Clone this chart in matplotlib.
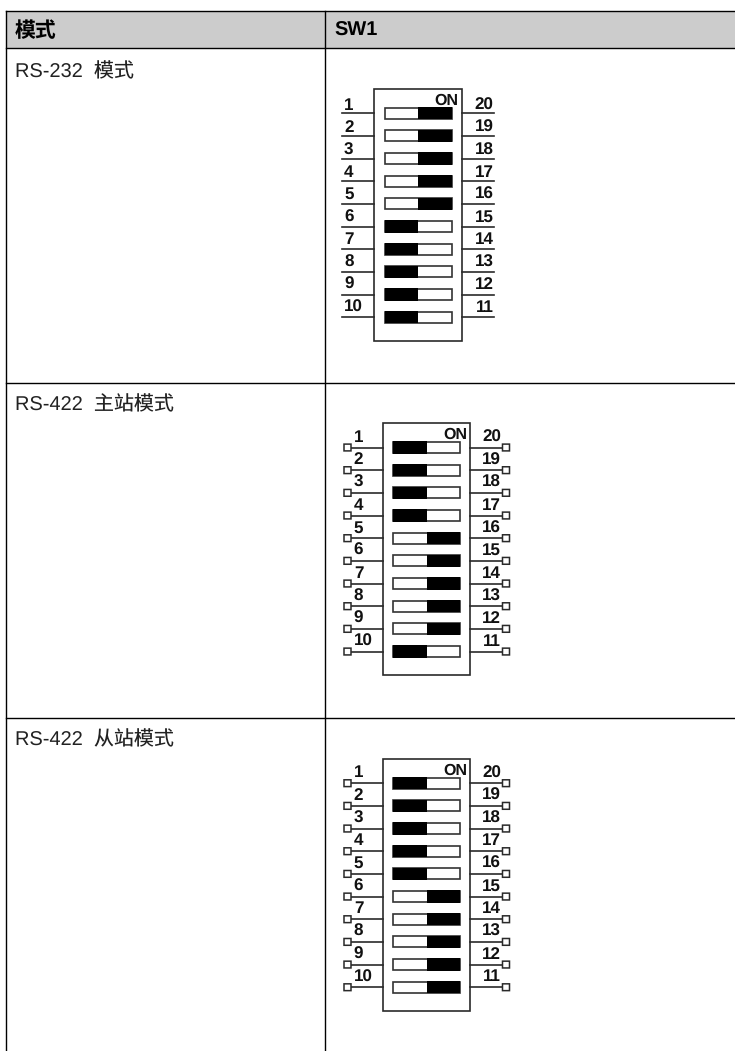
import matplotlib
matplotlib.use("Agg")
import matplotlib.pyplot as plt
from matplotlib.patches import Rectangle

plt.rcParams['font.family'] = ['Liberation Sans', 'Noto Sans CJK SC', 'DejaVu Sans']
plt.rcParams['text.hinting'] = 'no_hinting'
plt.rcParams['text.hinting_factor'] = 1

W, H = 735, 1051
headers = ["模式", "SW1"]
modes = ["RS-232  模式", "RS-422  主站模式", "RS-422  从站模式"]
# state of switches 1..10: 1 = black on the left, 0 = black on the right
states = [
    [0, 0, 0, 0, 0, 1, 1, 1, 1, 1],
    [1, 1, 1, 1, 0, 0, 0, 0, 0, 1],
    [1, 1, 1, 1, 1, 0, 0, 0, 0, 0],
]
left_pins = list(range(1, 11))
right_pins = list(range(20, 10, -1))
on_label = "ON"
has_terminals = [False, True, True]

row_tops = [47.5, 382.5, 717.5]
mode_text_y = [72.5, 405.5, 740.5]
body_lefts = [374.5, 383.0, 383.0]
body_tops = [89.0, 423.3, 759.0]

fig = plt.figure(figsize=(W / 100, H / 100), dpi=100)
ax = fig.add_axes([0, 0, 1, 1])
ax.set_xlim(0, W)
ax.set_ylim(H, 0)
ax.axis("off")

LC = "black"
LEFT, DIV, TOP, HDR = 6.5, 325.5, 10.5, 47.5

ax.add_patch(Rectangle((LEFT, TOP), W + 5 - LEFT, HDR - TOP, fc="#cccccc", ec="none", zorder=0))
ax.plot([LEFT, W + 5], [TOP, TOP], color=LC, lw=1.0)
ax.plot([LEFT, W + 5], [HDR, HDR], color=LC, lw=1.0)
ax.plot([LEFT, LEFT], [TOP, H + 2], color=LC, lw=1.0)
ax.plot([DIV, DIV], [TOP, H + 2], color=LC, lw=1.0)
for y in row_tops[1:]:
    ax.plot([LEFT, W + 5], [y, y], color=LC, lw=1.0)

ax.text(14.5, 31, headers[0], fontsize=15, fontweight="bold", va="center", ha="left", color="black",
        family=['Noto Sans CJK SC'])
ax.text(334, 30.5, headers[1], fontsize=14.4, fontweight="bold", va="center", ha="left", color="black")
for y, m in zip(mode_text_y, modes):
    ax.text(15.5, y, m, fontsize=14.4, va="center", ha="left", color="#222222")


def draw_switch(x0, y0, st, terminals):
    bw, bh = 87.5, 252
    ec = "#2a2a2a"
    ax.add_patch(Rectangle((x0, y0), bw, bh, fc="white", ec=ec, lw=1.2, zorder=2))
    ax.text(x0 + bw - 3.5, y0 + 3.8, on_label, fontsize=11.2, fontweight="bold", ha="right", va="top",
            zorder=4, color="#111111")
    first = y0 + 24.2
    step = 22.67
    sx, sw, sh = x0 + 10.5, 67, 11
    for i, s in enumerate(st):
        yc = first + i * step
        ax.add_patch(Rectangle((sx, yc - sh / 2), sw, sh, fc="white", ec="#333333", lw=1.2, zorder=3))
        bx = sx if s else sx + sw / 2
        ax.add_patch(Rectangle((bx, yc - sh / 2 - 0.6), sw / 2, sh + 1.2, fc="black", ec="none", zorder=4))
        lx0, rx1 = x0 - 32, x0 + bw + 32
        ax.plot([lx0, x0], [yc, yc], color=ec, lw=1.2, zorder=2)
        ax.plot([x0 + bw, rx1], [yc, yc], color=ec, lw=1.2, zorder=2)
        if terminals:
            ax.add_patch(Rectangle((lx0 - 7, yc - 3.4), 7, 6.8, fc="white", ec=ec, lw=1.1, zorder=3, snap=False))
            ax.add_patch(Rectangle((rx1, yc - 3.4), 7, 6.8, fc="white", ec=ec, lw=1.1, zorder=3, snap=False))
            lift = 5.8
            lpad, rpad = 2.8, 1.5
        else:
            lift = 3.7 + i * 0.22
            lpad, rpad = 1.5, 0.5
        ax.text(lx0 + lpad, yc - lift, str(left_pins[i]), fontsize=12, fontweight="bold",
                ha="left", va="baseline", zorder=4, color="#111111")
        ax.text(rx1 - rpad, yc - lift, str(right_pins[i]), fontsize=12, fontweight="bold",
                ha="right", va="baseline", zorder=4, color="#111111")


for st, xb, yb, t in zip(states, body_lefts, body_tops, has_terminals):
    draw_switch(xb, yb, st, t)

fig.savefig("out.png", dpi=100, facecolor="white")
